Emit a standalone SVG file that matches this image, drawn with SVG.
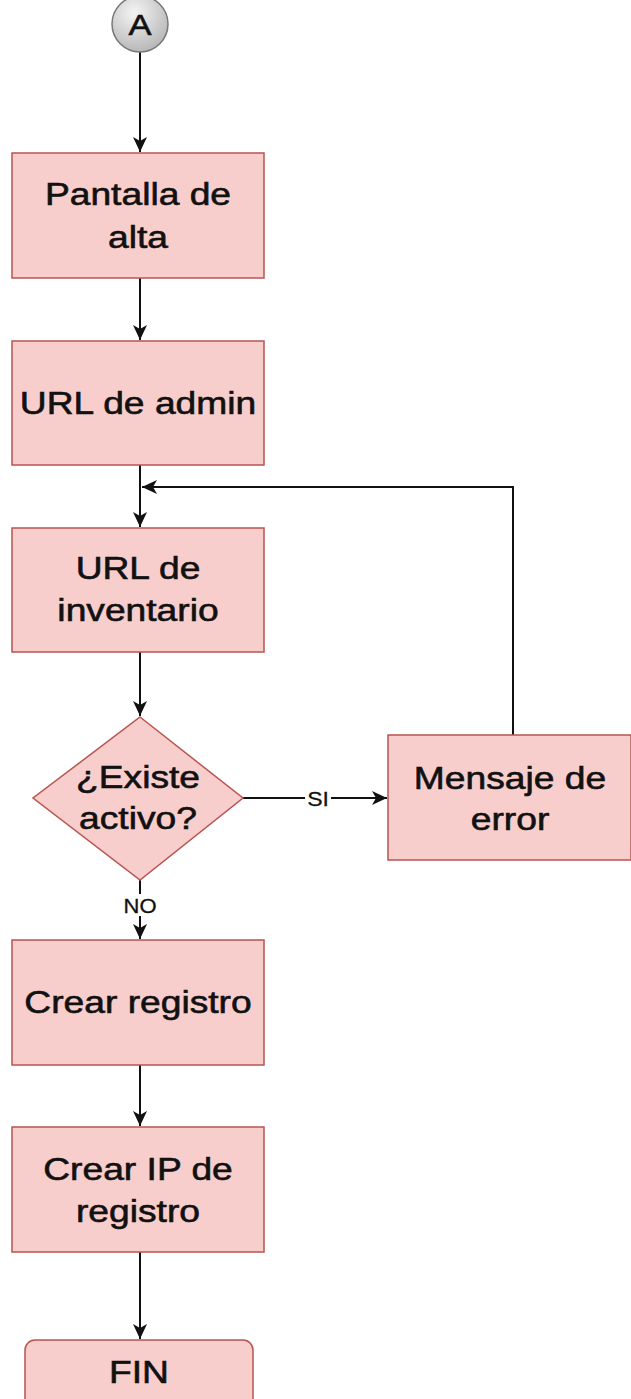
<svg xmlns="http://www.w3.org/2000/svg" width="631" height="1399" viewBox="0 0 631 1399">
<style>
.box{fill:#f8cecc;stroke:#b85450;stroke-width:1.5}
.t{font-family:"Liberation Sans",Arial,sans-serif;font-size:31px;fill:#111;stroke:#111;stroke-width:0.6;text-anchor:middle}
.s{font-family:"Liberation Sans",Arial,sans-serif;font-size:20px;fill:#111;stroke:#111;stroke-width:0.3;text-anchor:middle}
.e{fill:none;stroke:#111;stroke-width:2}
</style>
<defs>
<radialGradient id="g" cx="0.4" cy="0.3" r="0.8">
<stop offset="0" stop-color="#f4f4f4"/>
<stop offset="1" stop-color="#b0b0b0"/>
</radialGradient>
<marker id="a" markerUnits="userSpaceOnUse" markerWidth="16" markerHeight="16" viewBox="0 0 16 16" refX="15" refY="8" orient="auto">
<path d="M0,1 L15,8 L0,15 L4,8 Z" fill="#111"/>
</marker>
</defs>
<rect width="631" height="1399" fill="#fff"/>
<g id="edges">
<path class="e" d="M140,52 V152" marker-end="url(#a)"/>
<path class="e" d="M140,278 V340" marker-end="url(#a)"/>
<path class="e" d="M140,465 V527" marker-end="url(#a)"/>
<path class="e" d="M140,652 V716" marker-end="url(#a)"/>
<path class="e" d="M243,798 H387" marker-end="url(#a)"/>
<path class="e" d="M513,735 V487 H142" marker-end="url(#a)"/>
<path class="e" d="M140,880 V939" marker-end="url(#a)"/>
<path class="e" d="M140,1065 V1126" marker-end="url(#a)"/>
<path class="e" d="M140,1252 V1339" marker-end="url(#a)"/>
<rect x="305" y="788" width="26" height="21" fill="#fff"/>
<text class="s" transform="matrix(1.15 0 0 1 318 806)">SI</text>
<rect x="122" y="894" width="36" height="22" fill="#fff"/>
<text class="s" transform="matrix(1.1 0 0 1 140 913)">NO</text>
</g>
<g id="start">
<circle cx="140" cy="24" r="28" fill="url(#g)" stroke="#777" stroke-width="1.5"/>
<text class="t" transform="matrix(1.15 0 0 1 140 35)" style="font-size:30px">A</text>
</g>
<g id="pantalla">
<rect class="box" x="12" y="153" width="252" height="125"/>
<text class="t" transform="matrix(1.2 0 0 1 138 205)">Pantalla de</text>
<text class="t" transform="matrix(1.2 0 0 1 138 248)">alta</text>
</g>
<g id="admin">
<rect class="box" x="12" y="341" width="252" height="124"/>
<text class="t" transform="matrix(1.2 0 0 1 138 414)">URL de admin</text>
</g>
<g id="inventario">
<rect class="box" x="12" y="528" width="252" height="124"/>
<text class="t" transform="matrix(1.2 0 0 1 138 579)">URL de</text>
<text class="t" transform="matrix(1.2 0 0 1 138 621)">inventario</text>
</g>
<g id="existe">
<path class="box" d="M140,717 L243,798 L140,880 L33,798 Z"/>
<text class="t" transform="matrix(1.2 0 0 1 138 788)">¿Existe</text>
<text class="t" transform="matrix(1.2 0 0 1 138 829)">activo?</text>
</g>
<g id="error">
<rect class="box" x="388" y="735" width="243" height="125"/>
<text class="t" transform="matrix(1.2 0 0 1 510 789)">Mensaje de</text>
<text class="t" transform="matrix(1.2 0 0 1 510 830)">error</text>
</g>
<g id="registro">
<rect class="box" x="12" y="940" width="252" height="125"/>
<text class="t" transform="matrix(1.2 0 0 1 138 1013)">Crear registro</text>
</g>
<g id="ip">
<rect class="box" x="12" y="1127" width="252" height="125"/>
<text class="t" transform="matrix(1.2 0 0 1 138 1180)">Crear IP de</text>
<text class="t" transform="matrix(1.2 0 0 1 138 1222)">registro</text>
</g>
<g id="fin">
<rect class="box" x="25" y="1340" width="228" height="80" rx="10"/>
<text class="t" transform="matrix(1.2 0 0 1 139 1383)">FIN</text>
</g>
</svg>
